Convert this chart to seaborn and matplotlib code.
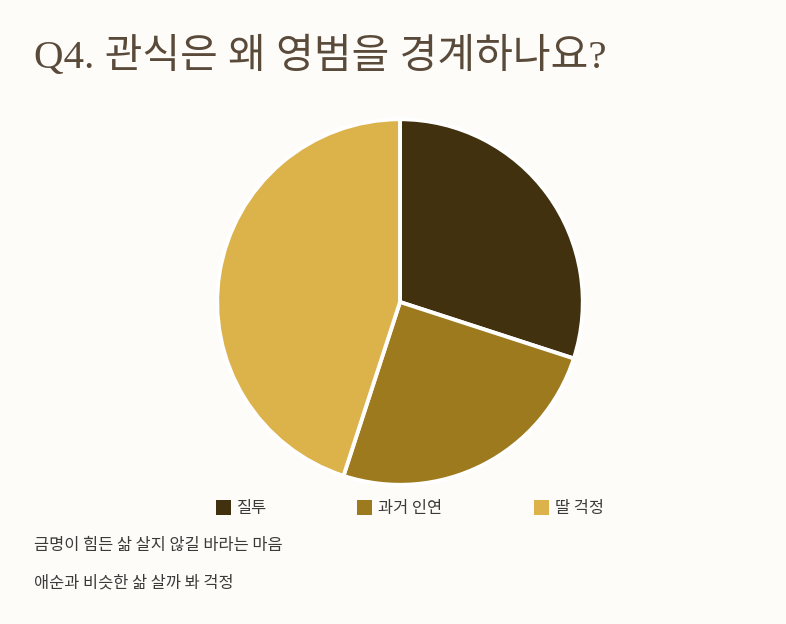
import matplotlib
matplotlib.use("Agg")
import matplotlib.pyplot as plt
import seaborn as sns

# 데이터
labels = ["질투", "과거 인연", "딸 걱정"]
values = [30, 25, 45]
colors = ["#41310E", "#9E7A1E", "#DCB24B"]
notes = ["금명이 힘든 삶 살지 않길 바라는 마음", "애순과 비슷한 삶 살까 봐 걱정"]
title = "Q4. 관식은 왜 영범을 경계하나요?"

sns.set_theme(style="white")
plt.rcParams['font.family'] = ['Noto Sans CJK KR', 'DejaVu Sans']

bg = "#FDFCF8"
fig = plt.figure(figsize=(7.86, 6.24), dpi=100, facecolor=bg)

ax = fig.add_axes([0.2786, 0.226, 0.4606, 0.580])
ax.set_facecolor(bg)
wedges, _ = ax.pie(values, colors=colors, startangle=90, counterclock=False,
                   wedgeprops=dict(edgecolor="white", linewidth=2.8))
for w in wedges:
    w.set_clip_on(False)
ax.set_xlim(-0.99, 0.99)
ax.set_ylim(-0.99, 0.99)
ax.set_aspect("equal")
ax.axis("off")

# 제목
fig.text(34 / 786, 1 - 68 / 624, title, fontsize=29.5, color="#5A4A3A",
         family=['Liberation Serif', 'Noto Sans CJK KR'], va="baseline", ha="left")

# 범례
leg_x = [216, 357, 534]
for h_x, lab, col in zip(leg_x, labels, colors):
    fig.patches.append(plt.Rectangle((h_x / 786, 1 - 515 / 624), 15 / 786, 15 / 624,
                                     transform=fig.transFigure, facecolor=col,
                                     edgecolor="none"))
    fig.text((h_x + 21) / 786, 1 - 508 / 624, lab, fontsize=11.8, color="#3A3A3A",
             va="center", ha="left")

# 설명 문구
for i, note in enumerate(notes):
    fig.text(34 / 786, 1 - (545 + 38 * i) / 624, note, fontsize=11.8, color="#3A3A3A",
             va="center", ha="left")

fig.savefig("out.png", dpi=100, facecolor=bg)
